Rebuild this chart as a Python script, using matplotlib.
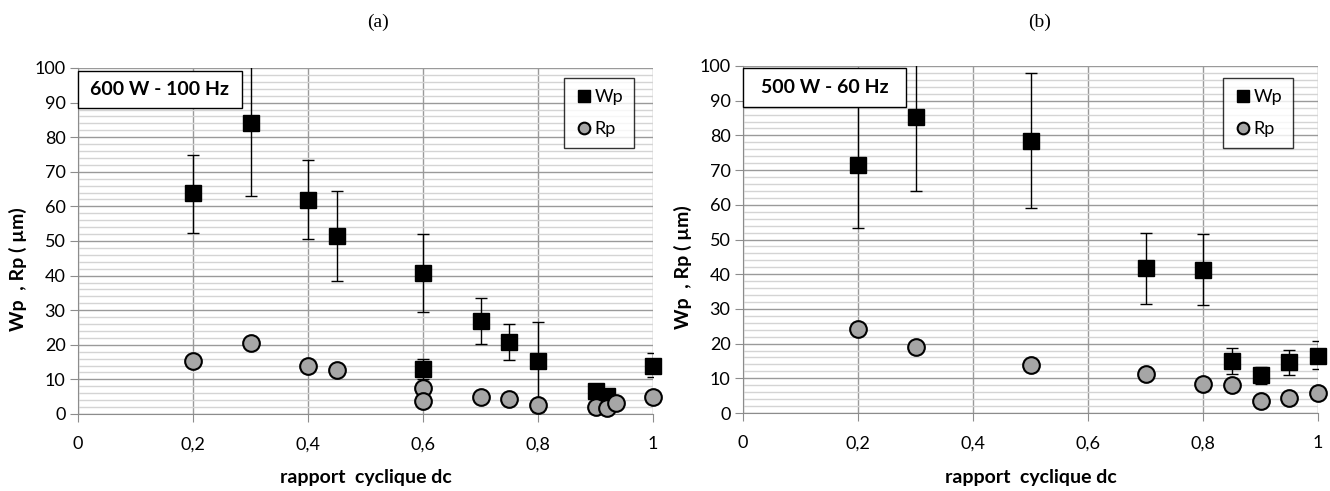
import numpy as np
import matplotlib
matplotlib.use("Agg")
import matplotlib.pyplot as plt
from matplotlib.patches import Rectangle
from matplotlib.ticker import MultipleLocator, FuncFormatter

plt.rcParams['font.family'] = ['Lato', 'DejaVu Sans']

# (a) 600 W - 100 Hz
dc_wp_a = [0.2, 0.3, 0.4, 0.45, 0.6, 0.6, 0.7, 0.75, 0.8, 0.9, 0.92, 1.0]
wp_a = [63.8, 84.0, 61.8, 51.5, 40.8, 12.9, 26.9, 20.9, 15.3, 6.6, 5.2, 13.9]
wp_a_lo = [52.3, 63.0, 50.6, 38.5, 29.6, 10.0, 20.1, 15.6, 0.5, 5.5, 4.2, 10.6]
wp_a_hi = [75.0, 105.0, 73.3, 64.4, 52.0, 15.8, 33.4, 25.9, 26.5, 7.7, 6.2, 17.5]
dc_rp_a = [0.2, 0.3, 0.4, 0.45, 0.6, 0.6, 0.7, 0.75, 0.8, 0.9, 0.92, 0.935, 1.0]
rp_a = [15.2, 20.6, 13.9, 12.7, 7.4, 3.9, 4.8, 4.2, 2.6, 2.0, 1.6, 3.1, 5.0]

# (b) 500 W - 60 Hz
dc_wp_b = [0.2, 0.3, 0.5, 0.7, 0.8, 0.85, 0.9, 0.95, 1.0]
wp_b = [71.4, 85.2, 78.5, 41.7, 41.2, 15.1, 11.0, 14.6, 16.5]
wp_b_lo = [53.4, 64.0, 59.0, 31.4, 31.1, 11.2, 8.4, 11.0, 12.7]
wp_b_hi = [89.4, 106.4, 98.1, 52.0, 51.5, 18.8, 13.2, 18.2, 20.7]
dc_rp_b = [0.2, 0.3, 0.5, 0.7, 0.8, 0.85, 0.9, 0.95, 1.0]
rp_b = [24.1, 19.1, 13.7, 11.3, 8.5, 8.2, 3.5, 4.4, 5.7]

panels = [
    ("(a)", "600 W - 100 Hz", dc_wp_a, wp_a, wp_a_lo, wp_a_hi, dc_rp_a, rp_a),
    ("(b)", "500 W - 60 Hz", dc_wp_b, wp_b, wp_b_lo, wp_b_hi, dc_rp_b, rp_b),
]

fig = plt.figure(figsize=(13.3, 4.91), dpi=100)
W, H = 1330.0, 491.0
rects = [(78, 68, 653, 414), (743, 66, 1318, 413)]
title_x = [378, 1040]
boxes = [(0.0, 0.884, 0.285, 0.107), (0.0, 0.882, 0.283, 0.112)]
leg_anchor = [(0.967, 0.971), (0.957, 0.965)]


def comma(v, pos):
    s = "%g" % v
    return s.replace(".", ",")


for i, ((tag, label, xw, yw, lo, hi, xr, yr), (x0, y0, x1, y1)) in enumerate(zip(panels, rects)):
    ax = fig.add_axes([x0 / W, 1 - y1 / H, (x1 - x0) / W, (y1 - y0) / H])
    ax.set_xlim(0, 1)
    ax.set_ylim(0, 100)
    ax.xaxis.set_major_locator(MultipleLocator(0.2))
    ax.yaxis.set_major_locator(MultipleLocator(10))
    ax.yaxis.set_minor_locator(MultipleLocator(2))
    ax.xaxis.set_major_formatter(FuncFormatter(comma))
    ax.grid(True, which='major', axis='both', color='#9a9a9a', lw=1.0)
    ax.grid(True, which='minor', axis='y', color='#d4d4d4', lw=1.0)
    ax.set_axisbelow(True)
    for s in ['top', 'right']:
        ax.spines[s].set_visible(False)
    for s in ['left', 'bottom']:
        ax.spines[s].set_color('#8c8c8c')
    ax.tick_params(which='major', direction='out', length=6, color='#8c8c8c',
                   labelsize=13)
    ax.tick_params(axis='y', pad=3)
    ax.tick_params(axis='x', pad=10)
    ax.tick_params(which='minor', length=0)

    yw = np.array(yw)
    err = [yw - np.array(lo), np.array(hi) - yw]
    ax.errorbar(xw, yw, yerr=err, fmt='none', ecolor='black', elinewidth=1.0,
                capsize=4, capthick=1.0, zorder=3)
    ax.plot(xw, yw, ls='none', marker='s', ms=11.5, mfc='black', mec='black',
            label='Wp', clip_on=False, zorder=4)
    ax.plot(xr, yr, ls='none', marker='o', ms=12, mfc='#a6a6a6', mec='black',
            mew=1.5, label='Rp', clip_on=False, zorder=5)

    ax.set_xlabel("rapport  cyclique dc", fontsize=14, fontweight='bold')
    ax.xaxis.set_label_coords(0.5, -0.16)
    ax.set_ylabel("Wp  , Rp ( µm)", fontsize=14, fontweight='bold')
    ax.yaxis.set_label_coords(-0.088, 0.42)
    fig.text(title_x[i] / W, 1 - 22 / H, tag, fontsize=14, family='Liberation Serif',
             ha='center', va='center')

    bx, by, bw, bh = boxes[i]
    ax.add_patch(Rectangle((bx, by), bw, bh, transform=ax.transAxes, fc='white',
                           ec='black', lw=1.0, zorder=6, clip_on=False))
    ax.text(bx + bw / 2, by + bh / 2, label, transform=ax.transAxes, fontsize=14,
            fontweight='bold', va='center', ha='center', zorder=7)

    leg = ax.legend(loc='upper right', bbox_to_anchor=leg_anchor[i], fontsize=13,
                    frameon=True, fancybox=False, edgecolor='black',
                    handletextpad=0.1, handlelength=1.0, borderpad=0.6,
                    labelspacing=0.9, markerscale=0.7, borderaxespad=0)
    leg.get_frame().set_linewidth(1.0)

fig.savefig("out.png", dpi=100)
